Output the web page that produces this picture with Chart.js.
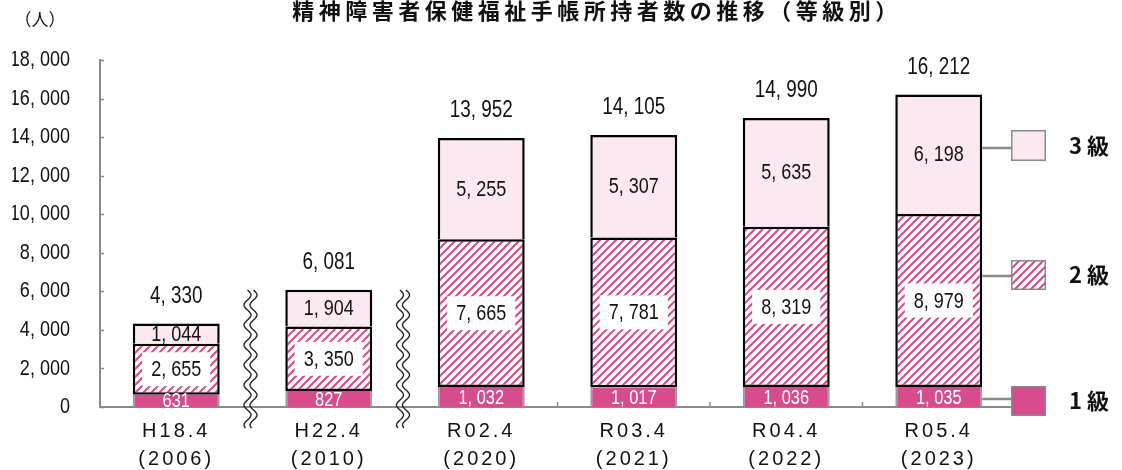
<!DOCTYPE html>
<html lang="ja">
<head>
<meta charset="utf-8">
<title>精神障害者保健福祉手帳所持者数の推移（等級別）</title>
<script src="https://cdn.jsdelivr.net/npm/chart.js@4.4.1/dist/chart.umd.min.js"></script>
<style>
  html, body { margin: 0; padding: 0; background: #fff; }
  #wrap { width: 1122px; height: 470px; }
</style>
</head>
<body>
<div id="wrap"><canvas id="chart" width="1122" height="470"></canvas></div>
<script>
// data
const categories = [['H18.4', '(2006)'], ['H22.4', '(2010)'], ['R02.4', '(2020)'],
                    ['R03.4', '(2021)'], ['R04.4', '(2022)'], ['R05.4', '(2023)']];
const grade1 = [631, 827, 1032, 1017, 1036, 1035];
const grade2 = [2655, 3350, 7665, 7781, 8319, 8979];
const grade3 = [1044, 1904, 5255, 5307, 5635, 6198];
const totals = [4330, 6081, 13952, 14105, 14990, 16212];
const seriesNames = ['1 級', '2 級', '3 級'];
const yMax = 18000;
const yStep = 2000;
const breakAfter = [0, 1]; // wavy break marks after these categories

const TITLE = '精神障害者保健福祉手帳所持者数の推移（等級別）';
const UNIT = '（人）';

const PINK = '#d84b8c';
const LIGHT = '#fbe8f0';
const AXIS = '#8a8a8a';
const NUM_FONT = "'Liberation Sans', Arial, sans-serif";
const JP_FONT = "'Noto Sans CJK JP', sans-serif";
const NARROW = 0.82; // squeeze numbers like a narrow face

function fmt(n) {
  return n.toLocaleString('en-US').replace(',', ', ');
}

// draw a number horizontally squeezed around its anchor
function narrowText(ctx, text, x, y, size, color) {
  ctx.save();
  ctx.font = size + 'px ' + NUM_FONT;
  ctx.fillStyle = color;
  ctx.translate(x, y);
  ctx.scale(NARROW, 1);
  ctx.fillText(text, 0, 0);
  ctx.restore();
}

// diagonal stripes for grade 2
function makeHatch(ctx) {
  const c = document.createElement('canvas');
  c.width = 8; c.height = 8;
  const g = c.getContext('2d');
  g.fillStyle = '#fff';
  g.fillRect(0, 0, 8, 8);
  g.strokeStyle = PINK;
  g.lineWidth = 2.1;
  g.beginPath();
  g.moveTo(-2, 10); g.lineTo(10, -2);
  g.moveTo(-2, 2); g.lineTo(2, -2);
  g.moveTo(6, 10); g.lineTo(10, 6);
  g.stroke();
  return ctx.createPattern(c, 'repeat');
}

const canvas = document.getElementById('chart');
const hatch = makeHatch(canvas.getContext('2d'));
const fills = [PINK, hatch, LIGHT];

const decor = {
  id: 'decor',
  afterLayout(chart) {
    // letter spacing on category labels
    const sx = chart.scales.x;
    if (!sx._patched) {
      const orig = sx.drawLabels;
      sx.drawLabels = function (area) {
        this.ctx.save();
        this.ctx.letterSpacing = '3px';
        orig.call(this, area);
        this.ctx.restore();
      };
      sx._patched = true;
    }
    // narrow value labels on the y axis (right aligned, so squeeze around the anchor)
    const sy = chart.scales.y;
    if (!sy._patched) {
      const orig = sy.drawLabels;
      sy.drawLabels = function (area) {
        const ax = this.right - this.options.ticks.padding;
        this.ctx.save();
        this.ctx.translate(ax, 0);
        this.ctx.scale(NARROW, 1);
        this.ctx.translate(-ax, 0);
        orig.call(this, area);
        this.ctx.restore();
      };
      sy._patched = true;
    }
  },
  afterDatasetsDraw(chart) {
    const ctx = chart.ctx;
    const m1 = chart.getDatasetMeta(0).data;
    const m2 = chart.getDatasetMeta(1).data;
    const m3 = chart.getDatasetMeta(2).data;
    ctx.save();
    ctx.textAlign = 'center';
    ctx.textBaseline = 'middle';
    m1.forEach((b, i) => {
      narrowText(ctx, fmt(grade1[i]), b.x, (b.y + b.base) / 2 + 1, 20, '#fff');

      const b2 = m2[i];
      const y2 = (b2.y + b2.base) / 2;
      ctx.font = '22px ' + NUM_FONT;
      const w = ctx.measureText(fmt(grade2[i])).width * NARROW;
      if (b2.base - b2.y > 40) {
        ctx.fillStyle = '#fff';
        ctx.fillRect(b2.x - w / 2 - 9, y2 - 17, w + 18, 34);
      }
      narrowText(ctx, fmt(grade2[i]), b2.x, y2 + 1, 22, '#111');

      const b3 = m3[i];
      narrowText(ctx, fmt(grade3[i]), b3.x, (b3.y + b3.base) / 2 + 1, 22, '#111');
      narrowText(ctx, fmt(totals[i]), b3.x, b3.y - 27, 23, '#111');
    });
    ctx.restore();
  },
  afterDraw(chart) {
    const ctx = chart.ctx;
    const { left, bottom } = chart.chartArea;
    const sx = chart.scales.x;
    const sy = chart.scales.y;
    ctx.save();

    // title and unit
    ctx.fillStyle = '#111';
    ctx.textAlign = 'center';
    ctx.textBaseline = 'middle';
    ctx.font = 'bold 22px ' + JP_FONT;
    ctx.letterSpacing = '4.5px';
    ctx.fillText(TITLE, 597, 11);
    ctx.letterSpacing = '0px';
    ctx.font = '17px ' + JP_FONT;
    ctx.fillText(UNIT, 40, 20);

    // inner ticks
    ctx.strokeStyle = AXIS;
    ctx.lineWidth = 1.5;
    ctx.beginPath();
    for (let v = 0; v <= yMax; v += yStep) {
      const y = Math.round(sy.getPixelForValue(v)) + 0.5;
      ctx.moveTo(left, y); ctx.lineTo(left + 4, y);
    }
    for (let i = 0; i < categories.length - 1; i++) {
      if (breakAfter.includes(i)) continue;
      const x = (sx.getPixelForValue(i) + sx.getPixelForValue(i + 1)) / 2;
      ctx.moveTo(x, bottom); ctx.lineTo(x, bottom - 5);
    }
    ctx.stroke();

    // wavy break marks
    ctx.strokeStyle = '#222';
    ctx.lineWidth = 1.4;
    breakAfter.forEach(i => {
      const cx = (sx.getPixelForValue(i) + sx.getPixelForValue(i + 1)) / 2 - 2;
      [-3, 3].forEach(off => {
        ctx.beginPath();
        for (let y = 290; y <= 428; y += 1) {
          const x = cx + off + 3.5 * Math.sin((y - 290) / 20 * 2 * Math.PI);
          if (y === 290) ctx.moveTo(x, y); else ctx.lineTo(x, y);
        }
        ctx.stroke();
      });
    });

    // legend with leader lines from the last bar
    const rows = [{ top: 386, h: 30, line: 399 }, { top: 260, h: 30, line: 276 }, { top: 130, h: 31, line: 148 }];
    const last = categories.length - 1;
    const sqX = 1011, sqW = 35;
    rows.forEach((r, k) => {
      const bar = chart.getDatasetMeta(k).data[last];
      ctx.strokeStyle = AXIS;
      ctx.lineWidth = 2.5;
      ctx.beginPath();
      ctx.moveTo(bar.x + bar.width / 2, r.line);
      ctx.lineTo(sqX, r.line);
      ctx.stroke();
      ctx.fillStyle = fills[k];
      ctx.fillRect(sqX, r.top, sqW, r.h);
      ctx.strokeStyle = '#8a8a8a';
      ctx.lineWidth = 1.5;
      ctx.strokeRect(sqX + 0.75, r.top + 0.75, sqW - 1.5, r.h - 1.5);
      ctx.fillStyle = '#111';
      ctx.textAlign = 'left';
      ctx.font = 'bold 22px ' + JP_FONT;
      ctx.fillText(seriesNames[k], 1069, r.top + r.h / 2);
    });
    ctx.restore();
  }
};

new Chart(canvas, {
  type: 'bar',
  data: {
    labels: categories,
    datasets: [
      { label: seriesNames[0], data: grade1, backgroundColor: PINK, borderColor: '#9a9a9a',
        borderWidth: { left: 2, right: 2, top: 0, bottom: 0 }, borderSkipped: false },
      { label: seriesNames[1], data: grade2, backgroundColor: hatch, borderColor: '#000',
        borderWidth: 2.5, borderSkipped: false },
      { label: seriesNames[2], data: grade3, backgroundColor: LIGHT, borderColor: '#000',
        borderWidth: { left: 2.5, right: 2.5, top: 2.5, bottom: 0 }, borderSkipped: false }
    ]
  },
  options: {
    responsive: false,
    animation: false,
    layout: { padding: { left: 0, right: 107, top: 60, bottom: 0 } },
    datasets: { bar: { barPercentage: 0.57, categoryPercentage: 1 } },
    plugins: { legend: { display: false }, tooltip: { enabled: false }, title: { display: false } },
    scales: {
      x: {
        stacked: true,
        grid: { display: false, drawTicks: false },
        border: { color: AXIS, width: 2 },
        ticks: { color: '#111', padding: 10, font: { family: NUM_FONT, size: 20, lineHeight: 1.4 } },
        afterFit(s) { s.height = 63; }
      },
      y: {
        stacked: true,
        min: 0,
        max: yMax,
        grid: { display: false, drawTicks: false },
        border: { color: AXIS, width: 2 },
        ticks: { stepSize: yStep, color: '#111', padding: 30, font: { family: NUM_FONT, size: 22 },
                 callback: v => fmt(v) },
        afterFit(s) { s.width = 100; }
      }
    }
  },
  plugins: [decor]
});
</script>
</body>
</html>
